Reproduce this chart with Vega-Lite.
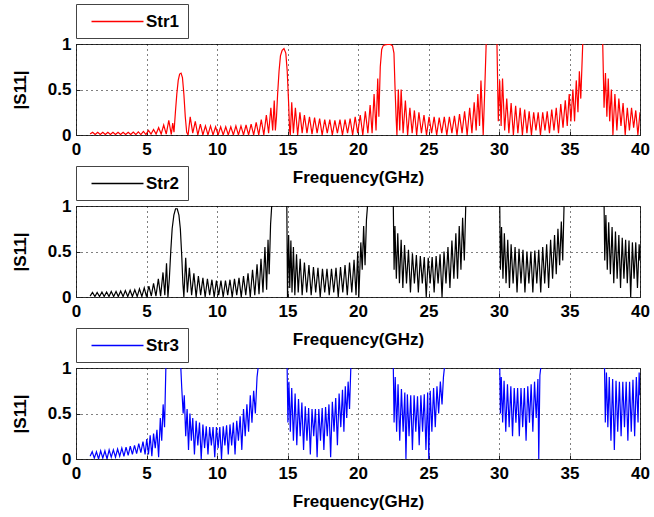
{
"$schema":"https://vega.github.io/schema/vega-lite/v6.json",
"padding":{"left":10,"top":3,"right":8,"bottom":3},
"background":"white",
"config":{
 "font":"Liberation Sans",
 "view":{"stroke":"#333333","strokeWidth":1},
 "axis":{"labelFont":"Liberation Sans","labelFontWeight":"bold","labelFontSize":17,"labelColor":"black","titleFont":"Liberation Sans","titleFontWeight":"bold","titleFontSize":17,"titleColor":"black","domain":false,"ticks":true,"tickSize":-4,"tickColor":"#222222","grid":true,"gridColor":"black","gridDash":[1,4],"gridWidth":1,"gridOpacity":1,"labelPadding":10,"labelOverlap":false},
 "axisX":{"labelFlush":false,"titlePadding":12},
 "axisY":{"titlePadding":18,"labelPadding":9},
 "legend":{"orient":"top","direction":"horizontal","symbolType":"M-3,0H3","symbolSize":300,"symbolOffset":24,"symbolStrokeWidth":1.3,"labelFont":"Liberation Sans","labelFontSize":17,"labelFontWeight":"bold","labelColor":"black","labelOffset":19,"strokeColor":"#444444","fillColor":"white","padding":8,"offset":6}
},
"datasets":{
"s1":[{"s":"Str1","f":1.0,"v":0.01},{"s":"Str1","f":1.18,"v":0.03},{"s":"Str1","f":1.36,"v":0.005},{"s":"Str1","f":1.54,"v":0.03},{"s":"Str1","f":1.72,"v":0.005},{"s":"Str1","f":1.9,"v":0.03},{"s":"Str1","f":2.08,"v":0.005},{"s":"Str1","f":2.26,"v":0.03},{"s":"Str1","f":2.44,"v":0.005},{"s":"Str1","f":2.62,"v":0.03},{"s":"Str1","f":2.8,"v":0.005},{"s":"Str1","f":2.98,"v":0.03},{"s":"Str1","f":3.16,"v":0.005},{"s":"Str1","f":3.34,"v":0.03},{"s":"Str1","f":3.52,"v":0.005},{"s":"Str1","f":3.7,"v":0.03},{"s":"Str1","f":3.88,"v":0.005},{"s":"Str1","f":4.06,"v":0.032},{"s":"Str1","f":4.24,"v":0.005},{"s":"Str1","f":4.42,"v":0.035},{"s":"Str1","f":4.6,"v":0.005},{"s":"Str1","f":4.78,"v":0.04},{"s":"Str1","f":4.96,"v":0.005},{"s":"Str1","f":5.14,"v":0.05},{"s":"Str1","f":5.32,"v":0.01},{"s":"Str1","f":5.5,"v":0.06},{"s":"Str1","f":5.68,"v":0.01},{"s":"Str1","f":5.86,"v":0.08},{"s":"Str1","f":6.04,"v":0.01},{"s":"Str1","f":6.22,"v":0.11},{"s":"Str1","f":6.4,"v":0.01},{"s":"Str1","f":6.58,"v":0.16},{"s":"Str1","f":6.76,"v":0.005},{"s":"Str1","f":6.86,"v":0.13},{"s":"Str1","f":6.95,"v":0.03},{"s":"Str1","f":7.05,"v":0.25},{"s":"Str1","f":7.15,"v":0.45},{"s":"Str1","f":7.25,"v":0.6},{"s":"Str1","f":7.35,"v":0.67},{"s":"Str1","f":7.45,"v":0.68},{"s":"Str1","f":7.55,"v":0.63},{"s":"Str1","f":7.65,"v":0.45},{"s":"Str1","f":7.75,"v":0.2},{"s":"Str1","f":7.85,"v":0.03},{"s":"Str1","f":7.95,"v":0.0},{"s":"Str1","f":8.1,"v":0.2},{"s":"Str1","f":8.28,"v":0.02},{"s":"Str1","f":8.46,"v":0.15},{"s":"Str1","f":8.64,"v":0.0},{"s":"Str1","f":8.82,"v":0.12},{"s":"Str1","f":9.0,"v":0.0},{"s":"Str1","f":9.18,"v":0.1},{"s":"Str1","f":9.36,"v":0.0},{"s":"Str1","f":9.54,"v":0.1},{"s":"Str1","f":9.72,"v":0.0},{"s":"Str1","f":9.9,"v":0.09},{"s":"Str1","f":10.08,"v":0.0},{"s":"Str1","f":10.26,"v":0.09},{"s":"Str1","f":10.44,"v":0.0},{"s":"Str1","f":10.62,"v":0.09},{"s":"Str1","f":10.8,"v":0.0},{"s":"Str1","f":10.98,"v":0.09},{"s":"Str1","f":11.16,"v":0.0},{"s":"Str1","f":11.34,"v":0.1},{"s":"Str1","f":11.52,"v":0.0},{"s":"Str1","f":11.7,"v":0.1},{"s":"Str1","f":11.88,"v":0.0},{"s":"Str1","f":12.06,"v":0.11},{"s":"Str1","f":12.24,"v":0.0},{"s":"Str1","f":12.42,"v":0.12},{"s":"Str1","f":12.6,"v":0.0},{"s":"Str1","f":12.78,"v":0.14},{"s":"Str1","f":12.96,"v":0.0},{"s":"Str1","f":13.14,"v":0.17},{"s":"Str1","f":13.32,"v":0.0},{"s":"Str1","f":13.5,"v":0.22},{"s":"Str1","f":13.66,"v":0.02},{"s":"Str1","f":13.82,"v":0.3},{"s":"Str1","f":13.95,"v":0.05},{"s":"Str1","f":14.06,"v":0.38},{"s":"Str1","f":14.14,"v":0.05},{"s":"Str1","f":14.22,"v":0.2},{"s":"Str1","f":14.3,"v":0.45},{"s":"Str1","f":14.4,"v":0.7},{"s":"Str1","f":14.5,"v":0.87},{"s":"Str1","f":14.62,"v":0.93},{"s":"Str1","f":14.75,"v":0.95},{"s":"Str1","f":14.88,"v":0.9},{"s":"Str1","f":14.98,"v":0.7},{"s":"Str1","f":15.08,"v":0.35},{"s":"Str1","f":15.15,"v":0.05},{"s":"Str1","f":15.2,"v":0.0},{"s":"Str1","f":15.3,"v":0.36},{"s":"Str1","f":15.42,"v":0.02},{"s":"Str1","f":15.56,"v":0.3},{"s":"Str1","f":15.72,"v":0.0},{"s":"Str1","f":15.88,"v":0.25},{"s":"Str1","f":16.04,"v":0.02},{"s":"Str1","f":16.2,"v":0.22},{"s":"Str1","f":16.38,"v":0.02},{"s":"Str1","f":16.56,"v":0.2},{"s":"Str1","f":16.74,"v":0.01},{"s":"Str1","f":16.92,"v":0.19},{"s":"Str1","f":17.1,"v":0.02},{"s":"Str1","f":17.28,"v":0.18},{"s":"Str1","f":17.46,"v":0.0},{"s":"Str1","f":17.64,"v":0.17},{"s":"Str1","f":17.82,"v":0.02},{"s":"Str1","f":18.0,"v":0.17},{"s":"Str1","f":18.18,"v":0.0},{"s":"Str1","f":18.36,"v":0.16},{"s":"Str1","f":18.54,"v":0.02},{"s":"Str1","f":18.72,"v":0.17},{"s":"Str1","f":18.9,"v":0.0},{"s":"Str1","f":19.08,"v":0.17},{"s":"Str1","f":19.26,"v":0.02},{"s":"Str1","f":19.44,"v":0.18},{"s":"Str1","f":19.62,"v":0.0},{"s":"Str1","f":19.8,"v":0.2},{"s":"Str1","f":19.98,"v":0.02},{"s":"Str1","f":20.16,"v":0.22},{"s":"Str1","f":20.34,"v":0.0},{"s":"Str1","f":20.52,"v":0.26},{"s":"Str1","f":20.7,"v":0.02},{"s":"Str1","f":20.86,"v":0.33},{"s":"Str1","f":21.0,"v":0.02},{"s":"Str1","f":21.14,"v":0.45},{"s":"Str1","f":21.28,"v":0.05},{"s":"Str1","f":21.4,"v":0.62},{"s":"Str1","f":21.48,"v":0.2},{"s":"Str1","f":21.58,"v":0.75},{"s":"Str1","f":21.68,"v":0.94},{"s":"Str1","f":21.78,"v":0.98},{"s":"Str1","f":21.9,"v":0.99},{"s":"Str1","f":22.1,"v":0.995},{"s":"Str1","f":22.3,"v":0.995},{"s":"Str1","f":22.45,"v":0.98},{"s":"Str1","f":22.55,"v":0.9},{"s":"Str1","f":22.62,"v":0.55},{"s":"Str1","f":22.7,"v":0.2},{"s":"Str1","f":22.76,"v":0.0},{"s":"Str1","f":22.86,"v":0.5},{"s":"Str1","f":22.96,"v":0.05},{"s":"Str1","f":23.06,"v":0.5},{"s":"Str1","f":23.2,"v":0.02},{"s":"Str1","f":23.36,"v":0.38},{"s":"Str1","f":23.52,"v":0.0},{"s":"Str1","f":23.68,"v":0.3},{"s":"Str1","f":23.84,"v":0.02},{"s":"Str1","f":24.0,"v":0.27},{"s":"Str1","f":24.16,"v":0.0},{"s":"Str1","f":24.32,"v":0.25},{"s":"Str1","f":24.5,"v":0.02},{"s":"Str1","f":24.68,"v":0.22},{"s":"Str1","f":24.86,"v":0.0},{"s":"Str1","f":25.04,"v":0.2},{"s":"Str1","f":25.22,"v":0.02},{"s":"Str1","f":25.4,"v":0.2},{"s":"Str1","f":25.58,"v":0.0},{"s":"Str1","f":25.76,"v":0.19},{"s":"Str1","f":25.94,"v":0.02},{"s":"Str1","f":26.12,"v":0.2},{"s":"Str1","f":26.3,"v":0.0},{"s":"Str1","f":26.48,"v":0.2},{"s":"Str1","f":26.66,"v":0.02},{"s":"Str1","f":26.84,"v":0.21},{"s":"Str1","f":27.02,"v":0.0},{"s":"Str1","f":27.2,"v":0.23},{"s":"Str1","f":27.38,"v":0.02},{"s":"Str1","f":27.56,"v":0.26},{"s":"Str1","f":27.74,"v":0.0},{"s":"Str1","f":27.92,"v":0.3},{"s":"Str1","f":28.08,"v":0.02},{"s":"Str1","f":28.24,"v":0.36},{"s":"Str1","f":28.38,"v":0.05},{"s":"Str1","f":28.5,"v":0.45},{"s":"Str1","f":28.62,"v":0.1},{"s":"Str1","f":28.72,"v":0.6},{"s":"Str1","f":28.8,"v":0.3},{"s":"Str1","f":28.88,"v":0.0},{"s":"Str1","f":28.98,"v":0.45},{"s":"Str1","f":29.1,"v":1.05},{"s":"Str1","f":29.85,"v":1.05},{"s":"Str1","f":29.95,"v":0.15},{"s":"Str1","f":30.05,"v":0.6},{"s":"Str1","f":30.15,"v":0.1},{"s":"Str1","f":30.25,"v":0.62},{"s":"Str1","f":30.4,"v":0.05},{"s":"Str1","f":30.55,"v":0.4},{"s":"Str1","f":30.7,"v":0.02},{"s":"Str1","f":30.86,"v":0.35},{"s":"Str1","f":31.02,"v":0.0},{"s":"Str1","f":31.18,"v":0.32},{"s":"Str1","f":31.34,"v":0.02},{"s":"Str1","f":31.5,"v":0.3},{"s":"Str1","f":31.66,"v":0.0},{"s":"Str1","f":31.82,"v":0.28},{"s":"Str1","f":31.98,"v":0.02},{"s":"Str1","f":32.14,"v":0.26},{"s":"Str1","f":32.3,"v":0.0},{"s":"Str1","f":32.46,"v":0.25},{"s":"Str1","f":32.62,"v":0.05},{"s":"Str1","f":32.78,"v":0.25},{"s":"Str1","f":32.94,"v":0.0},{"s":"Str1","f":33.1,"v":0.25},{"s":"Str1","f":33.26,"v":0.05},{"s":"Str1","f":33.42,"v":0.26},{"s":"Str1","f":33.58,"v":0.02},{"s":"Str1","f":33.74,"v":0.28},{"s":"Str1","f":33.9,"v":0.05},{"s":"Str1","f":34.06,"v":0.3},{"s":"Str1","f":34.22,"v":0.02},{"s":"Str1","f":34.38,"v":0.34},{"s":"Str1","f":34.54,"v":0.08},{"s":"Str1","f":34.7,"v":0.38},{"s":"Str1","f":34.84,"v":0.1},{"s":"Str1","f":34.98,"v":0.45},{"s":"Str1","f":35.1,"v":0.15},{"s":"Str1","f":35.24,"v":0.5},{"s":"Str1","f":35.36,"v":0.15},{"s":"Str1","f":35.48,"v":0.6},{"s":"Str1","f":35.6,"v":0.25},{"s":"Str1","f":35.7,"v":0.7},{"s":"Str1","f":35.8,"v":0.4},{"s":"Str1","f":35.95,"v":1.05},{"s":"Str1","f":37.35,"v":1.05},{"s":"Str1","f":37.45,"v":0.3},{"s":"Str1","f":37.55,"v":0.68},{"s":"Str1","f":37.65,"v":0.2},{"s":"Str1","f":37.75,"v":0.62},{"s":"Str1","f":37.85,"v":0.15},{"s":"Str1","f":37.97,"v":0.5},{"s":"Str1","f":38.08,"v":0.0},{"s":"Str1","f":38.22,"v":0.45},{"s":"Str1","f":38.36,"v":0.05},{"s":"Str1","f":38.5,"v":0.4},{"s":"Str1","f":38.65,"v":0.1},{"s":"Str1","f":38.8,"v":0.35},{"s":"Str1","f":38.95,"v":0.0},{"s":"Str1","f":39.1,"v":0.3},{"s":"Str1","f":39.25,"v":0.05},{"s":"Str1","f":39.4,"v":0.3},{"s":"Str1","f":39.55,"v":0.08},{"s":"Str1","f":39.7,"v":0.27},{"s":"Str1","f":39.85,"v":0.0},{"s":"Str1","f":40.0,"v":0.25}],
"s2":[{"s":"Str2","f":1.0,"v":0.01},{"s":"Str2","f":1.17,"v":0.05},{"s":"Str2","f":1.34,"v":0.005},{"s":"Str2","f":1.5,"v":0.05},{"s":"Str2","f":1.67,"v":0.005},{"s":"Str2","f":1.84,"v":0.055},{"s":"Str2","f":2.0,"v":0.005},{"s":"Str2","f":2.17,"v":0.055},{"s":"Str2","f":2.34,"v":0.005},{"s":"Str2","f":2.5,"v":0.06},{"s":"Str2","f":2.67,"v":0.005},{"s":"Str2","f":2.84,"v":0.06},{"s":"Str2","f":3.0,"v":0.005},{"s":"Str2","f":3.17,"v":0.065},{"s":"Str2","f":3.34,"v":0.005},{"s":"Str2","f":3.5,"v":0.07},{"s":"Str2","f":3.67,"v":0.005},{"s":"Str2","f":3.84,"v":0.075},{"s":"Str2","f":4.0,"v":0.005},{"s":"Str2","f":4.17,"v":0.08},{"s":"Str2","f":4.34,"v":0.005},{"s":"Str2","f":4.5,"v":0.09},{"s":"Str2","f":4.67,"v":0.005},{"s":"Str2","f":4.84,"v":0.1},{"s":"Str2","f":5.0,"v":0.005},{"s":"Str2","f":5.17,"v":0.12},{"s":"Str2","f":5.34,"v":0.01},{"s":"Str2","f":5.5,"v":0.15},{"s":"Str2","f":5.67,"v":0.01},{"s":"Str2","f":5.84,"v":0.2},{"s":"Str2","f":6.0,"v":0.01},{"s":"Str2","f":6.17,"v":0.27},{"s":"Str2","f":6.3,"v":0.02},{"s":"Str2","f":6.42,"v":0.37},{"s":"Str2","f":6.52,"v":0.0},{"s":"Str2","f":6.62,"v":0.2},{"s":"Str2","f":6.72,"v":0.5},{"s":"Str2","f":6.82,"v":0.75},{"s":"Str2","f":6.94,"v":0.9},{"s":"Str2","f":7.06,"v":0.97},{"s":"Str2","f":7.18,"v":0.97},{"s":"Str2","f":7.3,"v":0.9},{"s":"Str2","f":7.4,"v":0.75},{"s":"Str2","f":7.5,"v":0.45},{"s":"Str2","f":7.58,"v":0.15},{"s":"Str2","f":7.65,"v":0.0},{"s":"Str2","f":7.78,"v":0.43},{"s":"Str2","f":7.9,"v":0.05},{"s":"Str2","f":8.04,"v":0.32},{"s":"Str2","f":8.2,"v":0.02},{"s":"Str2","f":8.36,"v":0.26},{"s":"Str2","f":8.52,"v":0.0},{"s":"Str2","f":8.68,"v":0.23},{"s":"Str2","f":8.84,"v":0.02},{"s":"Str2","f":9.0,"v":0.21},{"s":"Str2","f":9.16,"v":0.0},{"s":"Str2","f":9.32,"v":0.2},{"s":"Str2","f":9.48,"v":0.02},{"s":"Str2","f":9.64,"v":0.19},{"s":"Str2","f":9.8,"v":0.0},{"s":"Str2","f":9.96,"v":0.18},{"s":"Str2","f":10.12,"v":0.02},{"s":"Str2","f":10.28,"v":0.18},{"s":"Str2","f":10.44,"v":0.0},{"s":"Str2","f":10.6,"v":0.18},{"s":"Str2","f":10.76,"v":0.02},{"s":"Str2","f":10.92,"v":0.19},{"s":"Str2","f":11.08,"v":0.0},{"s":"Str2","f":11.24,"v":0.2},{"s":"Str2","f":11.4,"v":0.02},{"s":"Str2","f":11.56,"v":0.21},{"s":"Str2","f":11.72,"v":0.0},{"s":"Str2","f":11.88,"v":0.23},{"s":"Str2","f":12.04,"v":0.02},{"s":"Str2","f":12.2,"v":0.26},{"s":"Str2","f":12.36,"v":0.0},{"s":"Str2","f":12.52,"v":0.3},{"s":"Str2","f":12.68,"v":0.02},{"s":"Str2","f":12.84,"v":0.36},{"s":"Str2","f":12.98,"v":0.03},{"s":"Str2","f":13.12,"v":0.42},{"s":"Str2","f":13.26,"v":0.05},{"s":"Str2","f":13.4,"v":0.55},{"s":"Str2","f":13.52,"v":0.08},{"s":"Str2","f":13.62,"v":0.63},{"s":"Str2","f":13.7,"v":0.25},{"s":"Str2","f":13.8,"v":0.8},{"s":"Str2","f":13.9,"v":1.05},{"s":"Str2","f":14.95,"v":1.05},{"s":"Str2","f":15.0,"v":0.0},{"s":"Str2","f":15.08,"v":0.68},{"s":"Str2","f":15.16,"v":0.1},{"s":"Str2","f":15.24,"v":0.62},{"s":"Str2","f":15.32,"v":0.05},{"s":"Str2","f":15.42,"v":0.55},{"s":"Str2","f":15.52,"v":0.02},{"s":"Str2","f":15.64,"v":0.47},{"s":"Str2","f":15.76,"v":0.05},{"s":"Str2","f":15.9,"v":0.42},{"s":"Str2","f":16.04,"v":0.02},{"s":"Str2","f":16.2,"v":0.38},{"s":"Str2","f":16.36,"v":0.05},{"s":"Str2","f":16.52,"v":0.35},{"s":"Str2","f":16.68,"v":0.02},{"s":"Str2","f":16.84,"v":0.33},{"s":"Str2","f":17.0,"v":0.05},{"s":"Str2","f":17.16,"v":0.32},{"s":"Str2","f":17.32,"v":0.0},{"s":"Str2","f":17.48,"v":0.31},{"s":"Str2","f":17.64,"v":0.05},{"s":"Str2","f":17.8,"v":0.31},{"s":"Str2","f":17.96,"v":0.02},{"s":"Str2","f":18.12,"v":0.31},{"s":"Str2","f":18.28,"v":0.05},{"s":"Str2","f":18.44,"v":0.32},{"s":"Str2","f":18.6,"v":0.0},{"s":"Str2","f":18.76,"v":0.33},{"s":"Str2","f":18.92,"v":0.05},{"s":"Str2","f":19.08,"v":0.35},{"s":"Str2","f":19.24,"v":0.02},{"s":"Str2","f":19.4,"v":0.38},{"s":"Str2","f":19.56,"v":0.05},{"s":"Str2","f":19.72,"v":0.41},{"s":"Str2","f":19.86,"v":0.02},{"s":"Str2","f":19.98,"v":0.5},{"s":"Str2","f":20.06,"v":0.0},{"s":"Str2","f":20.2,"v":0.6},{"s":"Str2","f":20.3,"v":0.3},{"s":"Str2","f":20.4,"v":0.78},{"s":"Str2","f":20.5,"v":0.35},{"s":"Str2","f":20.6,"v":0.85},{"s":"Str2","f":20.7,"v":1.05},{"s":"Str2","f":22.5,"v":1.05},{"s":"Str2","f":22.56,"v":0.3},{"s":"Str2","f":22.62,"v":0.78},{"s":"Str2","f":22.72,"v":0.2},{"s":"Str2","f":22.82,"v":0.7},{"s":"Str2","f":22.94,"v":0.15},{"s":"Str2","f":23.06,"v":0.63},{"s":"Str2","f":23.18,"v":0.1},{"s":"Str2","f":23.3,"v":0.57},{"s":"Str2","f":23.44,"v":0.15},{"s":"Str2","f":23.58,"v":0.52},{"s":"Str2","f":23.72,"v":0.05},{"s":"Str2","f":23.86,"v":0.48},{"s":"Str2","f":24.0,"v":0.15},{"s":"Str2","f":24.14,"v":0.46},{"s":"Str2","f":24.28,"v":0.05},{"s":"Str2","f":24.42,"v":0.45},{"s":"Str2","f":24.56,"v":0.15},{"s":"Str2","f":24.7,"v":0.44},{"s":"Str2","f":24.84,"v":0.0},{"s":"Str2","f":24.98,"v":0.43},{"s":"Str2","f":25.12,"v":0.15},{"s":"Str2","f":25.26,"v":0.44},{"s":"Str2","f":25.4,"v":0.05},{"s":"Str2","f":25.54,"v":0.45},{"s":"Str2","f":25.68,"v":0.15},{"s":"Str2","f":25.82,"v":0.47},{"s":"Str2","f":25.96,"v":0.0},{"s":"Str2","f":26.1,"v":0.5},{"s":"Str2","f":26.24,"v":0.15},{"s":"Str2","f":26.38,"v":0.55},{"s":"Str2","f":26.52,"v":0.1},{"s":"Str2","f":26.66,"v":0.62},{"s":"Str2","f":26.8,"v":0.2},{"s":"Str2","f":26.94,"v":0.7},{"s":"Str2","f":27.06,"v":0.2},{"s":"Str2","f":27.18,"v":0.78},{"s":"Str2","f":27.3,"v":0.3},{"s":"Str2","f":27.42,"v":0.87},{"s":"Str2","f":27.54,"v":0.4},{"s":"Str2","f":27.65,"v":1.05},{"s":"Str2","f":30.05,"v":1.05},{"s":"Str2","f":30.1,"v":0.3},{"s":"Str2","f":30.18,"v":0.77},{"s":"Str2","f":30.28,"v":0.2},{"s":"Str2","f":30.38,"v":0.7},{"s":"Str2","f":30.5,"v":0.15},{"s":"Str2","f":30.62,"v":0.63},{"s":"Str2","f":30.74,"v":0.1},{"s":"Str2","f":30.86,"v":0.58},{"s":"Str2","f":31.0,"v":0.15},{"s":"Str2","f":31.14,"v":0.55},{"s":"Str2","f":31.28,"v":0.05},{"s":"Str2","f":31.42,"v":0.53},{"s":"Str2","f":31.56,"v":0.15},{"s":"Str2","f":31.7,"v":0.52},{"s":"Str2","f":31.84,"v":0.05},{"s":"Str2","f":31.98,"v":0.5},{"s":"Str2","f":32.12,"v":0.15},{"s":"Str2","f":32.26,"v":0.5},{"s":"Str2","f":32.4,"v":0.05},{"s":"Str2","f":32.54,"v":0.51},{"s":"Str2","f":32.68,"v":0.15},{"s":"Str2","f":32.82,"v":0.52},{"s":"Str2","f":32.96,"v":0.05},{"s":"Str2","f":33.1,"v":0.55},{"s":"Str2","f":33.24,"v":0.15},{"s":"Str2","f":33.38,"v":0.58},{"s":"Str2","f":33.52,"v":0.1},{"s":"Str2","f":33.66,"v":0.63},{"s":"Str2","f":33.8,"v":0.2},{"s":"Str2","f":33.94,"v":0.68},{"s":"Str2","f":34.06,"v":0.25},{"s":"Str2","f":34.18,"v":0.75},{"s":"Str2","f":34.3,"v":0.35},{"s":"Str2","f":34.42,"v":0.83},{"s":"Str2","f":34.52,"v":0.4},{"s":"Str2","f":34.62,"v":1.05},{"s":"Str2","f":37.45,"v":1.05},{"s":"Str2","f":37.5,"v":0.4},{"s":"Str2","f":37.58,"v":0.9},{"s":"Str2","f":37.68,"v":0.3},{"s":"Str2","f":37.78,"v":0.82},{"s":"Str2","f":37.9,"v":0.25},{"s":"Str2","f":38.02,"v":0.77},{"s":"Str2","f":38.14,"v":0.15},{"s":"Str2","f":38.26,"v":0.72},{"s":"Str2","f":38.38,"v":0.2},{"s":"Str2","f":38.5,"v":0.68},{"s":"Str2","f":38.62,"v":0.1},{"s":"Str2","f":38.74,"v":0.65},{"s":"Str2","f":38.86,"v":0.2},{"s":"Str2","f":38.98,"v":0.63},{"s":"Str2","f":39.1,"v":0.15},{"s":"Str2","f":39.22,"v":0.62},{"s":"Str2","f":39.34,"v":0.0},{"s":"Str2","f":39.46,"v":0.6},{"s":"Str2","f":39.58,"v":0.2},{"s":"Str2","f":39.7,"v":0.6},{"s":"Str2","f":39.82,"v":0.1},{"s":"Str2","f":39.94,"v":0.58},{"s":"Str2","f":40.0,"v":0.4}],
"s3":[{"s":"Str3","f":1.0,"v":0.03},{"s":"Str3","f":1.15,"v":0.08},{"s":"Str3","f":1.3,"v":0.01},{"s":"Str3","f":1.45,"v":0.08},{"s":"Str3","f":1.6,"v":0.0},{"s":"Str3","f":1.75,"v":0.09},{"s":"Str3","f":1.9,"v":0.01},{"s":"Str3","f":2.05,"v":0.09},{"s":"Str3","f":2.2,"v":0.0},{"s":"Str3","f":2.35,"v":0.1},{"s":"Str3","f":2.5,"v":0.02},{"s":"Str3","f":2.65,"v":0.1},{"s":"Str3","f":2.8,"v":0.02},{"s":"Str3","f":2.95,"v":0.11},{"s":"Str3","f":3.1,"v":0.03},{"s":"Str3","f":3.25,"v":0.12},{"s":"Str3","f":3.4,"v":0.03},{"s":"Str3","f":3.55,"v":0.13},{"s":"Str3","f":3.7,"v":0.04},{"s":"Str3","f":3.85,"v":0.14},{"s":"Str3","f":4.0,"v":0.05},{"s":"Str3","f":4.15,"v":0.15},{"s":"Str3","f":4.3,"v":0.06},{"s":"Str3","f":4.45,"v":0.17},{"s":"Str3","f":4.6,"v":0.07},{"s":"Str3","f":4.75,"v":0.19},{"s":"Str3","f":4.9,"v":0.05},{"s":"Str3","f":5.02,"v":0.22},{"s":"Str3","f":5.14,"v":0.05},{"s":"Str3","f":5.26,"v":0.26},{"s":"Str3","f":5.38,"v":0.03},{"s":"Str3","f":5.5,"v":0.28},{"s":"Str3","f":5.62,"v":0.12},{"s":"Str3","f":5.74,"v":0.32},{"s":"Str3","f":5.86,"v":0.02},{"s":"Str3","f":5.98,"v":0.45},{"s":"Str3","f":6.08,"v":0.2},{"s":"Str3","f":6.18,"v":0.6},{"s":"Str3","f":6.28,"v":0.35},{"s":"Str3","f":6.38,"v":1.05},{"s":"Str3","f":7.42,"v":1.05},{"s":"Str3","f":7.5,"v":0.78},{"s":"Str3","f":7.6,"v":0.5},{"s":"Str3","f":7.68,"v":0.7},{"s":"Str3","f":7.78,"v":0.25},{"s":"Str3","f":7.88,"v":0.55},{"s":"Str3","f":7.98,"v":0.1},{"s":"Str3","f":8.08,"v":0.5},{"s":"Str3","f":8.18,"v":0.2},{"s":"Str3","f":8.28,"v":0.45},{"s":"Str3","f":8.4,"v":0.05},{"s":"Str3","f":8.52,"v":0.42},{"s":"Str3","f":8.64,"v":0.15},{"s":"Str3","f":8.76,"v":0.4},{"s":"Str3","f":8.88,"v":0.0},{"s":"Str3","f":9.0,"v":0.38},{"s":"Str3","f":9.12,"v":0.12},{"s":"Str3","f":9.24,"v":0.36},{"s":"Str3","f":9.36,"v":0.05},{"s":"Str3","f":9.48,"v":0.35},{"s":"Str3","f":9.6,"v":0.15},{"s":"Str3","f":9.72,"v":0.35},{"s":"Str3","f":9.84,"v":0.02},{"s":"Str3","f":9.96,"v":0.35},{"s":"Str3","f":10.08,"v":0.12},{"s":"Str3","f":10.2,"v":0.35},{"s":"Str3","f":10.32,"v":0.0},{"s":"Str3","f":10.44,"v":0.36},{"s":"Str3","f":10.56,"v":0.15},{"s":"Str3","f":10.68,"v":0.37},{"s":"Str3","f":10.8,"v":0.05},{"s":"Str3","f":10.92,"v":0.38},{"s":"Str3","f":11.04,"v":0.15},{"s":"Str3","f":11.16,"v":0.4},{"s":"Str3","f":11.28,"v":0.05},{"s":"Str3","f":11.4,"v":0.42},{"s":"Str3","f":11.52,"v":0.2},{"s":"Str3","f":11.64,"v":0.47},{"s":"Str3","f":11.76,"v":0.1},{"s":"Str3","f":11.88,"v":0.55},{"s":"Str3","f":12.0,"v":0.25},{"s":"Str3","f":12.12,"v":0.6},{"s":"Str3","f":12.24,"v":0.3},{"s":"Str3","f":12.36,"v":0.7},{"s":"Str3","f":12.48,"v":0.4},{"s":"Str3","f":12.6,"v":0.75},{"s":"Str3","f":12.72,"v":0.5},{"s":"Str3","f":12.84,"v":0.9},{"s":"Str3","f":12.95,"v":1.05},{"s":"Str3","f":14.97,"v":1.05},{"s":"Str3","f":15.03,"v":0.4},{"s":"Str3","f":15.1,"v":0.85},{"s":"Str3","f":15.2,"v":0.3},{"s":"Str3","f":15.3,"v":0.78},{"s":"Str3","f":15.42,"v":0.2},{"s":"Str3","f":15.54,"v":0.72},{"s":"Str3","f":15.66,"v":0.15},{"s":"Str3","f":15.78,"v":0.66},{"s":"Str3","f":15.9,"v":0.25},{"s":"Str3","f":16.02,"v":0.62},{"s":"Str3","f":16.14,"v":0.1},{"s":"Str3","f":16.26,"v":0.58},{"s":"Str3","f":16.38,"v":0.2},{"s":"Str3","f":16.5,"v":0.56},{"s":"Str3","f":16.62,"v":0.05},{"s":"Str3","f":16.74,"v":0.55},{"s":"Str3","f":16.86,"v":0.25},{"s":"Str3","f":16.98,"v":0.55},{"s":"Str3","f":17.1,"v":0.02},{"s":"Str3","f":17.22,"v":0.55},{"s":"Str3","f":17.34,"v":0.2},{"s":"Str3","f":17.46,"v":0.56},{"s":"Str3","f":17.58,"v":0.1},{"s":"Str3","f":17.7,"v":0.57},{"s":"Str3","f":17.82,"v":0.25},{"s":"Str3","f":17.94,"v":0.6},{"s":"Str3","f":18.06,"v":0.02},{"s":"Str3","f":18.18,"v":0.63},{"s":"Str3","f":18.3,"v":0.3},{"s":"Str3","f":18.42,"v":0.67},{"s":"Str3","f":18.54,"v":0.15},{"s":"Str3","f":18.66,"v":0.72},{"s":"Str3","f":18.78,"v":0.35},{"s":"Str3","f":18.9,"v":0.76},{"s":"Str3","f":19.0,"v":0.3},{"s":"Str3","f":19.1,"v":0.8},{"s":"Str3","f":19.2,"v":0.45},{"s":"Str3","f":19.3,"v":0.85},{"s":"Str3","f":19.4,"v":0.55},{"s":"Str3","f":19.5,"v":1.05},{"s":"Str3","f":22.5,"v":1.05},{"s":"Str3","f":22.56,"v":0.4},{"s":"Str3","f":22.64,"v":0.9},{"s":"Str3","f":22.74,"v":0.3},{"s":"Str3","f":22.84,"v":0.82},{"s":"Str3","f":22.96,"v":0.2},{"s":"Str3","f":23.08,"v":0.77},{"s":"Str3","f":23.2,"v":0.3},{"s":"Str3","f":23.32,"v":0.73},{"s":"Str3","f":23.4,"v":0.0},{"s":"Str3","f":23.5,"v":0.71},{"s":"Str3","f":23.62,"v":0.25},{"s":"Str3","f":23.74,"v":0.7},{"s":"Str3","f":23.86,"v":0.1},{"s":"Str3","f":23.98,"v":0.7},{"s":"Str3","f":24.1,"v":0.3},{"s":"Str3","f":24.22,"v":0.69},{"s":"Str3","f":24.34,"v":0.15},{"s":"Str3","f":24.46,"v":0.7},{"s":"Str3","f":24.58,"v":0.3},{"s":"Str3","f":24.7,"v":0.71},{"s":"Str3","f":24.82,"v":0.1},{"s":"Str3","f":24.94,"v":0.73},{"s":"Str3","f":25.02,"v":0.0},{"s":"Str3","f":25.12,"v":0.75},{"s":"Str3","f":25.24,"v":0.3},{"s":"Str3","f":25.36,"v":0.78},{"s":"Str3","f":25.48,"v":0.35},{"s":"Str3","f":25.6,"v":0.8},{"s":"Str3","f":25.72,"v":0.5},{"s":"Str3","f":25.84,"v":0.85},{"s":"Str3","f":25.96,"v":0.6},{"s":"Str3","f":26.06,"v":0.9},{"s":"Str3","f":26.16,"v":1.05},{"s":"Str3","f":30.05,"v":1.05},{"s":"Str3","f":30.1,"v":0.5},{"s":"Str3","f":30.16,"v":0.9},{"s":"Str3","f":30.26,"v":0.4},{"s":"Str3","f":30.36,"v":0.86},{"s":"Str3","f":30.48,"v":0.3},{"s":"Str3","f":30.6,"v":0.82},{"s":"Str3","f":30.72,"v":0.35},{"s":"Str3","f":30.84,"v":0.8},{"s":"Str3","f":30.96,"v":0.25},{"s":"Str3","f":31.08,"v":0.78},{"s":"Str3","f":31.2,"v":0.4},{"s":"Str3","f":31.32,"v":0.78},{"s":"Str3","f":31.44,"v":0.25},{"s":"Str3","f":31.56,"v":0.78},{"s":"Str3","f":31.68,"v":0.35},{"s":"Str3","f":31.8,"v":0.78},{"s":"Str3","f":31.92,"v":0.2},{"s":"Str3","f":32.04,"v":0.8},{"s":"Str3","f":32.16,"v":0.4},{"s":"Str3","f":32.28,"v":0.82},{"s":"Str3","f":32.4,"v":0.3},{"s":"Str3","f":32.52,"v":0.85},{"s":"Str3","f":32.64,"v":0.45},{"s":"Str3","f":32.76,"v":0.88},{"s":"Str3","f":32.82,"v":0.0},{"s":"Str3","f":32.9,"v":0.92},{"s":"Str3","f":33.0,"v":1.05},{"s":"Str3","f":37.48,"v":1.05},{"s":"Str3","f":37.54,"v":0.4},{"s":"Str3","f":37.62,"v":0.95},{"s":"Str3","f":37.72,"v":0.35},{"s":"Str3","f":37.82,"v":0.9},{"s":"Str3","f":37.94,"v":0.2},{"s":"Str3","f":38.06,"v":0.88},{"s":"Str3","f":38.18,"v":0.1},{"s":"Str3","f":38.3,"v":0.86},{"s":"Str3","f":38.42,"v":0.3},{"s":"Str3","f":38.54,"v":0.85},{"s":"Str3","f":38.66,"v":0.25},{"s":"Str3","f":38.78,"v":0.85},{"s":"Str3","f":38.9,"v":0.35},{"s":"Str3","f":39.02,"v":0.85},{"s":"Str3","f":39.14,"v":0.2},{"s":"Str3","f":39.26,"v":0.85},{"s":"Str3","f":39.38,"v":0.3},{"s":"Str3","f":39.5,"v":0.87},{"s":"Str3","f":39.62,"v":0.25},{"s":"Str3","f":39.74,"v":0.9},{"s":"Str3","f":39.86,"v":0.4},{"s":"Str3","f":39.94,"v":0.95},{"s":"Str3","f":40.0,"v":0.7}]
},
"spacing":71,
"bounds":"flush",
"resolve":{"scale":{"color":"independent"},"legend":{"color":"independent"}},
"vconcat":[
 {"width":564,"height":91,"data":{"name":"s1"},
  "mark":{"type":"line","clip":true,"strokeWidth":1.2},
  "encoding":{
   "x":{"field":"f","type":"quantitative","scale":{"domain":[0,40],"nice":false},"axis":{"title":"Frequency(GHz)","values":[0,5,10,15,20,25,30,35,40]}},
   "y":{"field":"v","type":"quantitative","scale":{"domain":[0,1],"nice":false},"axis":{"title":"|S11|","values":[0,0.5,1],"format":"~g"}},
   "color":{"field":"s","type":"nominal","scale":{"domain":["Str1"],"range":["#ff0000"]},"legend":{"title":null}}}},
 {"width":564,"height":91,"data":{"name":"s2"},
  "mark":{"type":"line","clip":true,"strokeWidth":1.2},
  "encoding":{
   "x":{"field":"f","type":"quantitative","scale":{"domain":[0,40],"nice":false},"axis":{"title":"Frequency(GHz)","values":[0,5,10,15,20,25,30,35,40]}},
   "y":{"field":"v","type":"quantitative","scale":{"domain":[0,1],"nice":false},"axis":{"title":"|S11|","values":[0,0.5,1],"format":"~g"}},
   "color":{"field":"s","type":"nominal","scale":{"domain":["Str2"],"range":["#000000"]},"legend":{"title":null}}}},
 {"width":564,"height":91,"data":{"name":"s3"},
  "mark":{"type":"line","clip":true,"strokeWidth":1.2},
  "encoding":{
   "x":{"field":"f","type":"quantitative","scale":{"domain":[0,40],"nice":false},"axis":{"title":"Frequency(GHz)","values":[0,5,10,15,20,25,30,35,40]}},
   "y":{"field":"v","type":"quantitative","scale":{"domain":[0,1],"nice":false},"axis":{"title":"|S11|","values":[0,0.5,1],"format":"~g"}},
   "color":{"field":"s","type":"nominal","scale":{"domain":["Str3"],"range":["#0000ff"]},"legend":{"title":null}}}}
]
}
